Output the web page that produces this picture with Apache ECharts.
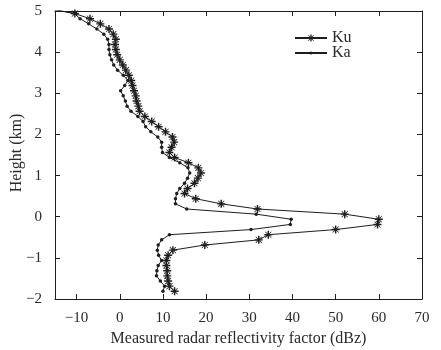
<!DOCTYPE html>
<html>
<head>
<meta charset="utf-8">
<script src="https://cdn.jsdelivr.net/npm/echarts@6/dist/echarts.min.js"></script>
<style>
html,body{margin:0;padding:0;background:#fff;}
#chart{width:441px;height:350px;}
</style>
</head>
<body>
<div id="chart"></div>
<script>
// Heights (km) of each sample
var heights = [5.0625, 4.9375, 4.8125, 4.6875, 4.5625, 4.4375, 4.3125, 4.1875, 4.0625, 3.9375,
  3.8125, 3.6875, 3.5625, 3.4375, 3.3125, 3.1875, 3.0625, 2.9375, 2.8125, 2.6875,
  2.5625, 2.4375, 2.3125, 2.1875, 2.0625, 1.9375, 1.8125, 1.6875, 1.5625, 1.4375,
  1.3125, 1.1875, 1.0625, 0.9375, 0.8125, 0.6875, 0.5625, 0.4375, 0.3125, 0.1875,
  0.0625, -0.0625, -0.1875, -0.3125, -0.4375, -0.5625, -0.6875, -0.8125, -0.9375, -1.0625,
  -1.1875, -1.3125, -1.4375, -1.5625, -1.6875, -1.8125];

// Measured reflectivity (dBz)
var kuValues = [-16.5, -10.4, -6.9, -4.5, -2.5, -1.5, -0.9, -1.1, -0.9, -0.6,
  0.0, 0.7, 1.4, 2.1, 2.65, 2.95, 3.3, 3.7, 3.9, 4.3,
  4.6, 5.8, 7.4, 9.0, 10.6, 12.2, 12.6, 12.0, 11.5, 12.7,
  15.9, 18.2, 18.8, 18.1, 17.3, 15.7, 15.0, 17.6, 23.5, 31.9,
  52.1, 60.0, 59.7, 50.0, 34.4, 32.2, 19.7, 12.3, 11.2, 10.8,
  10.8, 11.0, 11.0, 11.2, 11.5, 12.7];

var kaValues = [-16.5, -10.5, -9.2, -7.2, -5.3, -3.7, -2.8, -2.5, -2.5, -2.3,
  -1.9, -1.4, -0.5, 0.8, 1.9, 1.15, 0.2, 0.8, 1.3, 1.7,
  2.6, 4.2, 5.4, 6.0, 7.2, 8.8, 9.7, 9.7, 9.9, 11.5,
  13.9, 15.8, 16.2, 15.7, 15.0, 13.9, 13.2, 12.9, 12.9, 15.5,
  31.6, 39.7, 39.5, 30.4, 11.5, 9.7, 8.9, 8.7, 9.0, 9.7,
  8.9, 8.6, 8.5, 9.4, 10.4, 10.0];

var xTicks = [-10, 0, 10, 20, 30, 40, 50, 60, 70];
var yTicks = [-2, -1, 0, 1, 2, 3, 4, 5];

var seriesNames = ['Ku', 'Ka'];
var xTitle = 'Measured radar reflectivity factor (dBz)';
var yTitle = 'Height (km)';

function pairs(vals) {
  return vals.map(function (v, i) { return [v, heights[i]]; });
}

var asterisk = 'path://M0 8.2H20V11.8H0Z M8.2 0H11.8V20H8.2Z M1.8 3.1L3.1 1.8L18.2 16.9L16.9 18.2Z M16.9 1.8L18.2 3.1L3.1 18.2L1.8 16.9Z';

var FONT = 'Liberation Serif';
var INK = '#1e1e1e';
var TXT = '#2a2a2a';
function fmt(v) { return String(v).replace('-', '\u2212'); }

var lineAxis = {show: true, onZero: false, lineStyle: {color: INK, width: 1}};

var chart = echarts.init(document.getElementById('chart'), null, {renderer: 'canvas'});
chart.setOption({
  animation: false,
  backgroundColor: '#fff',
  grid: {left: 55, right: 19, top: 11, bottom: 51, containLabel: false, outerBoundsMode: 'none'},
  graphic: [{
    type: 'text', x: 17, y: 153, rotation: Math.PI / 2,
    style: {text: yTitle, fontFamily: FONT, fontSize: 16, fill: TXT,
      align: 'center', verticalAlign: 'middle'}
  }],
  legend: [{
    orient: 'vertical', left: 289, top: 25,
    itemWidth: 32, itemHeight: 9,
    textStyle: {fontFamily: FONT, fontSize: 16, color: TXT},
    data: [seriesNames[0]]
  }, {
    orient: 'vertical', left: 289, top: 40,
    itemWidth: 32, itemHeight: 4,
    textStyle: {fontFamily: FONT, fontSize: 16, color: TXT},
    data: [seriesNames[1]]
  }],
  xAxis: [{
    type: 'value', position: 'bottom', min: -15, max: 70,
    name: xTitle, nameLocation: 'middle', nameGap: 31,
    nameTextStyle: {fontFamily: FONT, fontSize: 16, color: TXT},
    axisLine: lineAxis,
    axisTick: {show: true, inside: true, length: 5, customValues: xTicks, lineStyle: {color: INK}},
    axisLabel: {show: true, customValues: xTicks, formatter: fmt, margin: 12,
      fontFamily: FONT, fontSize: 15, color: TXT},
    splitLine: {show: false}
  }, {
    type: 'value', position: 'top', min: -15, max: 70,
    axisLine: lineAxis,
    axisTick: {show: true, inside: true, length: 5, customValues: xTicks, lineStyle: {color: INK}},
    axisLabel: {show: false},
    splitLine: {show: false}
  }],
  yAxis: [{
    type: 'value', position: 'left', min: -2, max: 5, interval: 1,
    axisLine: lineAxis,
    axisTick: {show: true, inside: true, length: 5, lineStyle: {color: INK}},
    axisLabel: {show: true, formatter: fmt, margin: 13,
      fontFamily: FONT, fontSize: 15, color: TXT},
    splitLine: {show: false}
  }, {
    type: 'value', position: 'right', min: -2, max: 5, interval: 1,
    axisLine: lineAxis,
    axisTick: {show: true, inside: true, length: 5, lineStyle: {color: INK}},
    axisLabel: {show: false},
    splitLine: {show: false}
  }],
  series: [{
    name: seriesNames[0], type: 'line', xAxisIndex: 0, yAxisIndex: 0,
    data: pairs(kuValues), clip: true,
    symbol: asterisk, symbolSize: 8, showAllSymbol: true,
    lineStyle: {color: INK, width: 1},
    itemStyle: {color: INK}
  }, {
    name: seriesNames[1], type: 'line', xAxisIndex: 0, yAxisIndex: 0,
    data: pairs(kaValues), clip: true,
    symbol: 'circle', symbolSize: 3.5, showAllSymbol: true,
    lineStyle: {color: INK, width: 1},
    itemStyle: {color: INK}
  }]
});
</script>
</body>
</html>
